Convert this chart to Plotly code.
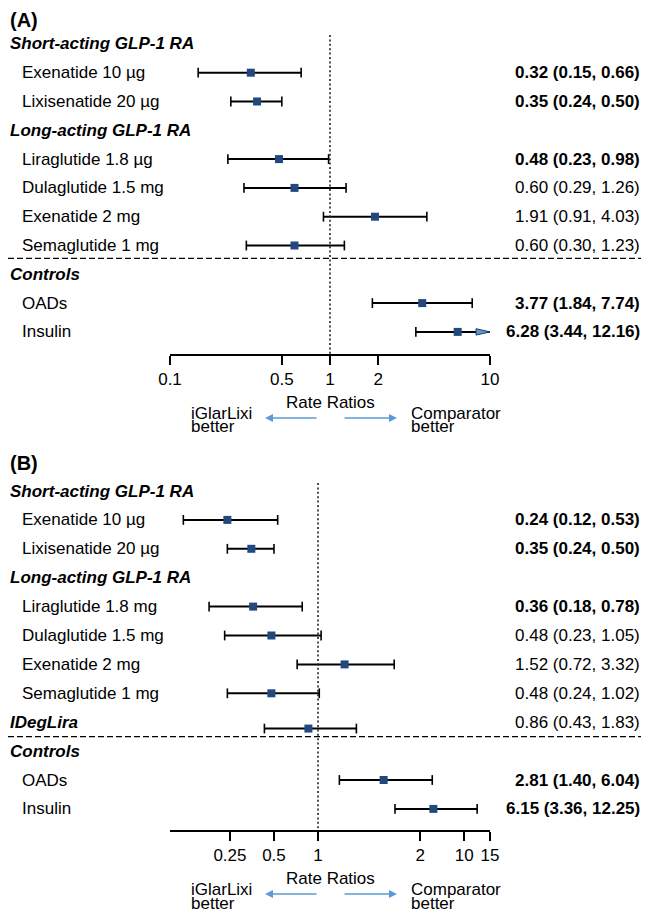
import plotly.graph_objects as go

W, H = 649, 911
OFF = 8  # page offset of the plot inside the browser page
FONT = "Liberation Sans, Arial, Helvetica, sans-serif"

# ---------------- Data: panel A ----------------
a_headers = ["Short-acting GLP-1 RA", "Long-acting GLP-1 RA", "Controls"]
a_header_rows = [0, 3, 8]
a_labels = ["Exenatide 10 µg", "Lixisenatide 20 µg", "Liraglutide 1.8 µg", "Dulaglutide 1.5 mg",
            "Exenatide 2 mg", "Semaglutide 1 mg", "OADs", "Insulin"]
a_rows = [1, 2, 4, 5, 6, 7, 9, 10]
a_rr = [0.32, 0.35, 0.48, 0.60, 1.91, 0.60, 3.77, 6.28]
a_lo = [0.15, 0.24, 0.23, 0.29, 0.91, 0.30, 1.84, 3.44]
a_hi = [0.66, 0.50, 0.98, 1.26, 4.03, 1.23, 7.74, 12.16]
a_tickvals = [0.1, 0.5, 1, 2, 10]
a_ticktext = ["0.1", "0.5", "1", "2", "10"]

# ---------------- Data: panel B ----------------
b_headers = ["Short-acting GLP-1 RA", "Long-acting GLP-1 RA", "IDegLira", "Controls"]
b_header_rows = [0, 3, 8, 9]
b_labels = ["Exenatide 10 µg", "Lixisenatide 20 µg", "Liraglutide 1.8 mg", "Dulaglutide 1.5 mg",
            "Exenatide 2 mg", "Semaglutide 1 mg", None, "OADs", "Insulin"]
b_rows = [1, 2, 4, 5, 6, 7, 8, 10, 11]
b_rr = [0.24, 0.35, 0.36, 0.48, 1.52, 0.48, 0.86, 2.81, 6.15]
b_lo = [0.12, 0.24, 0.18, 0.23, 0.72, 0.24, 0.43, 1.40, 3.36]
b_hi = [0.53, 0.50, 0.78, 1.05, 3.32, 1.02, 1.83, 6.04, 12.25]
b_tickvals = [0.25, 0.5, 1, 5, 10, 15]
b_ticktext = ["0.25", "0.5", "1", "2", "10", "15"]

# ---------------- Layout / style ----------------
NAVY = "#22497e"
ARROW_BLUE = "#5b9bd5"
FS = 17

panels = [
    dict(title="(A)", title_px=20, headers=a_headers, header_rows=a_header_rows, labels=a_labels,
         rows=a_rows, rr=a_rr, lo=a_lo, hi=a_hi, tickvals=a_tickvals, ticktext=a_ticktext,
         row0_px=43.9, row_px=28.8, axis_px=354, top_px=OFF, xrange=[-1, 1],
         dot_top_px=35, sep_row=7.45, point_dy=[0] * 8, xa="x", ya="y"),
    dict(title="(B)", title_px=463, headers=b_headers, header_rows=b_header_rows, labels=b_labels,
         rows=b_rows, rr=b_rr, lo=b_lo, hi=b_hi, tickvals=b_tickvals, ticktext=b_ticktext,
         row0_px=491, row_px=28.9, axis_px=830, top_px=440, xrange=[-1.012, 1.176],
         dot_top_px=483, sep_row=8.5, point_dy=[0, 0, 0, 0, 0, 0, 0.22, 0, 0], xa="x2", ya="y2"),
]

X_LEFT_PX, X_RIGHT_PX = 170, 490


def px(xp):
    return (xp - OFF) / W


def py(yp):
    return 1 - (yp - OFF) / H


fig = go.Figure()
annotations = []
shapes = []
layout_axes = {}

for p in panels:
    xa, ya = p["xa"], p["ya"]
    xmax = 10 ** p["xrange"][1]
    yr_bottom = (p["axis_px"] - p["row0_px"]) / p["row_px"]
    yr_top = (p["top_px"] - p["row0_px"]) / p["row_px"]

    # CI lines, caps, arrow for truncated intervals
    lx, ly = [], []
    cx, cy = [], []
    for r, lo, hi, dy in zip(p["rows"], p["lo"], p["hi"], p["point_dy"]):
        yy = r + dy
        lx += [lo, min(hi, xmax), None]
        ly += [yy, yy, None]
        cx.append(lo); cy.append(yy)
        if hi <= xmax:
            cx.append(hi); cy.append(yy)
        else:
            shapes.append(dict(type="path", xref=xa, yref=ya, xsizemode="pixel", ysizemode="pixel",
                               xanchor=xmax, yanchor=yy, path="M-14,3.2 L0,0 L-14,-3.2 Z",
                               fillcolor=ARROW_BLUE, line=dict(color="#1f3d66", width=1)))
    fig.add_trace(go.Scatter(x=lx, y=ly, mode="lines", line=dict(color="black", width=2),
                             xaxis=xa, yaxis=ya, hoverinfo="skip", showlegend=False, cliponaxis=False))
    fig.add_trace(go.Scatter(x=cx, y=cy, mode="markers",
                             marker=dict(symbol="line-ns", size=7, line=dict(color="black", width=1.6)),
                             xaxis=xa, yaxis=ya, hoverinfo="skip", showlegend=False, cliponaxis=False))
    fig.add_trace(go.Scatter(x=p["rr"], y=[r + d for r, d in zip(p["rows"], p["point_dy"])],
                             mode="markers", marker=dict(symbol="square", size=8, color=NAVY),
                             xaxis=xa, yaxis=ya, showlegend=False, cliponaxis=False))

    # axes
    xkey = "xaxis" if xa == "x" else "xaxis2"
    ykey = "yaxis" if ya == "y" else "yaxis2"
    layout_axes[xkey] = dict(type="log", range=p["xrange"], domain=[px(X_LEFT_PX), px(X_RIGHT_PX)],
                             anchor=ya, showline=True, linecolor="black", linewidth=2,
                             ticks="outside", ticklen=9, tickwidth=2, tickcolor="black",
                             tickvals=p["tickvals"], ticktext=p["ticktext"],
                             tickfont=dict(size=FS, color="black", family=FONT),
                             showgrid=False, zeroline=False, fixedrange=True, automargin=False)
    layout_axes[ykey] = dict(range=[yr_bottom, yr_top], domain=[py(p["axis_px"]), py(p["top_px"])],
                             anchor=xa, visible=False, fixedrange=True)

    # panel title
    annotations.append(dict(text="<b>%s</b>" % p["title"], xref="paper", yref="paper", x=px(8),
                            y=py(p["title_px"]), xanchor="left", yanchor="middle", showarrow=False,
                            font=dict(size=20, color="black", family=FONT)))
    # headers
    for t, r in zip(p["headers"], p["header_rows"]):
        annotations.append(dict(text="<b><i>%s</i></b>" % t, xref="paper", yref=ya, x=px(8), y=r,
                                xanchor="left", yanchor="middle", showarrow=False,
                                font=dict(size=FS, color="black", family=FONT)))
    # labels + values
    for lab, r, rr, lo, hi in zip(p["labels"], p["rows"], p["rr"], p["lo"], p["hi"]):
        if lab:
            annotations.append(dict(text=lab, xref="paper", yref=ya, x=px(20), y=r,
                                    xanchor="left", yanchor="middle", showarrow=False,
                                    font=dict(size=FS, color="black", family=FONT)))
        val = "%.2f (%.2f, %.2f)" % (rr, lo, hi)
        if hi < 1 or lo > 1:
            val = "<b>%s</b>" % val
        annotations.append(dict(text=val, xref="paper", yref=ya, x=px(642), y=r,
                                xanchor="right", yanchor="middle", showarrow=False,
                                font=dict(size=FS, color="black", family=FONT)))

    # separator dashed line
    shapes.append(dict(type="line", xref="paper", yref=ya, x0=px(OFF), x1=1, y0=p["sep_row"], y1=p["sep_row"],
                       line=dict(color="black", width=1.3, dash="6px,3px")))
    # vertical dotted line at 1
    shapes.append(dict(type="line", xref=xa, yref="paper", x0=1, x1=1,
                       y0=py(p["dot_top_px"]), y1=py(p["axis_px"]),
                       line=dict(color="#222222", width=1.6, dash="2px,2.4px")))

    # footer
    ax_px = p["axis_px"]
    annotations.append(dict(text="Rate Ratios", xref="paper", yref="paper", x=px(330), y=py(ax_px + 48),
                            xanchor="center", yanchor="middle", showarrow=False,
                            font=dict(size=FS, color="black", family=FONT)))
    for t, yo in (("iGlarLixi", 59), ("better", 73)):
        annotations.append(dict(text=t, xref="paper", yref="paper", x=px(189), y=py(ax_px + yo),
                                xanchor="left", yanchor="middle", showarrow=False,
                                font=dict(size=FS, color="black", family=FONT)))
    for t, yo in (("Comparator", 59), ("better", 73)):
        annotations.append(dict(text=t, xref="paper", yref="paper", x=px(409), y=py(ax_px + yo),
                                xanchor="left", yanchor="middle", showarrow=False,
                                font=dict(size=FS, color="black", family=FONT)))
    annotations.append(dict(text="", xref="paper", yref="paper", x=px(265), y=py(ax_px + 64),
                            ax=53, ay=0, showarrow=True, arrowhead=2, arrowsize=1, arrowwidth=1.6,
                            arrowcolor=ARROW_BLUE))
    annotations.append(dict(text="", xref="paper", yref="paper", x=px(397), y=py(ax_px + 64),
                            ax=-54, ay=0, showarrow=True, arrowhead=2, arrowsize=1, arrowwidth=1.6,
                            arrowcolor=ARROW_BLUE))

fig.update_layout(width=W, height=H, margin=dict(l=0, r=0, t=0, b=0, autoexpand=False),
                  paper_bgcolor="white", plot_bgcolor="white",
                  font=dict(family=FONT, size=FS, color="black"),
                  annotations=annotations, shapes=shapes, showlegend=False, **layout_axes)

fig.write_html("out.html")
